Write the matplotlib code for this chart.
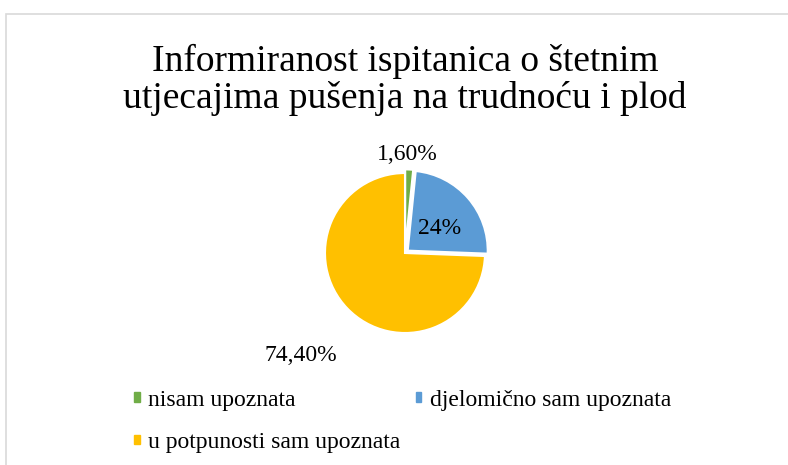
import matplotlib.pyplot as plt
from matplotlib.patches import Rectangle

categories = ['nisam upoznata', 'djelomično sam upoznata', 'u potpunosti sam upoznata']
values = [1.6, 24.0, 74.4]
labels = ['1,60%', '24%', '74,40%']
colors = ['#70AD47', '#5B9BD5', '#FFC000']

plt.rcParams['font.family'] = ['Liberation Serif', 'DejaVu Serif']

fig = plt.figure(figsize=(7.88, 4.65), dpi=100)

# chart border
fig.add_artist(Rectangle((6 / 788, -0.1), 1.0, (465 - 14) / 465 + 0.1,
                         transform=fig.transFigure, fill=False,
                         edgecolor='#D9D9D9', linewidth=1.2))

fig.text(405 / 788, 1 - 80 / 465, 'Informiranost ispitanica o štetnim\nutjecajima pušenja na trudnoću i plod',
         ha='center', va='center', fontsize=27, linespacing=1.05)

r = 80
ax = fig.add_axes([(405 - r) / 788, 1 - (253 + r) / 465, 2 * r / 788, 2 * r / 465])
wedges, _ = ax.pie(values, colors=colors, startangle=90, counterclock=False,
                   explode=[0.045, 0.045, 0],
                   wedgeprops=dict(edgecolor='white', linewidth=1.5, clip_on=False))
ax.set_aspect('equal')
ax.set_xlim(-1.0, 1.0)
ax.set_ylim(-1.0, 1.0)

# data labels
fig.text(407 / 788, 1 - 155 / 465, labels[0], ha='center', va='center', fontsize=17)
fig.text(440 / 788, 1 - 228 / 465, labels[1], ha='center', va='center', fontsize=17)
fig.text(301 / 788, 1 - 355 / 465, labels[2], ha='center', va='center', fontsize=17)

# legend filled row by row: reorder for column-wise filling
order = [0, 2, 1]
handles = [Rectangle((0, 0), 1, 1, color=colors[i]) for i in order]
fig.legend(handles, [categories[i] for i in order], ncol=2, loc='upper left',
           bbox_to_anchor=(122 / 788, 1 - 378 / 465), frameon=False,
           fontsize=17, handlelength=0.25, handleheight=0.25, handletextpad=0.35,
           columnspacing=0.65, labelspacing=0.9, borderpad=0)

plt.savefig('out.png')
